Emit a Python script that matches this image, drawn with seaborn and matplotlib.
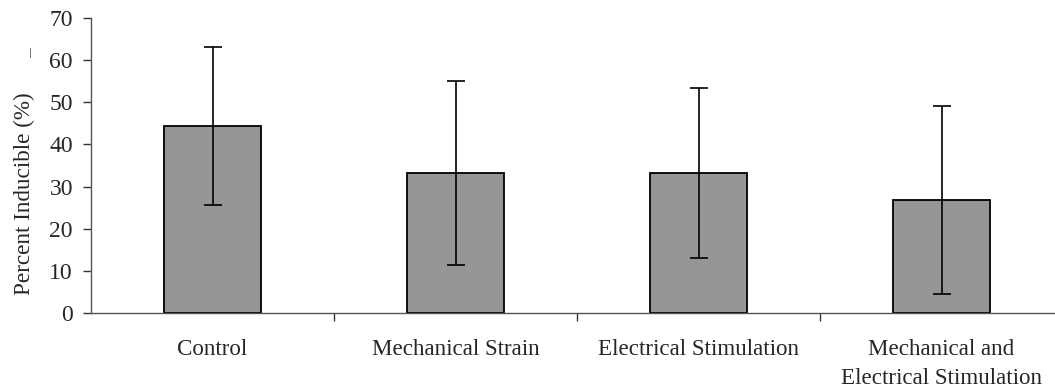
import matplotlib
matplotlib.use("Agg")
import matplotlib.pyplot as plt
import seaborn as sns
import pandas as pd
import numpy as np

categories = ["Control", "Mechanical Strain", "Electrical Stimulation", "Mechanical and\nElectrical Stimulation"]
values = [44.4, 33.3, 33.3, 26.8]
errors = [18.8, 21.8, 20.2, 22.4]
yticks = [0, 10, 20, 30, 40, 50, 60, 70]

sns.set_theme(style="white")
plt.rcParams["font.family"] = ["Liberation Serif", "DejaVu Serif"]

fig = plt.figure(figsize=(10.55, 3.89), dpi=100)
ax = fig.add_axes([91 / 1055, 1 - 313 / 389, (1063 - 91) / 1055, (313 - 18) / 389])

df = pd.DataFrame({"cat": categories, "val": values})
sns.barplot(data=df, x="cat", y="val", ax=ax, color="#969696", saturation=1,
            width=0.4, edgecolor="black", linewidth=1.3, errorbar=None)
ax.errorbar(np.arange(len(categories)), values, yerr=errors, fmt="none",
            ecolor="black", elinewidth=1.2, capsize=6.5, capthick=1.2)

ax.set_xlim(-0.5, len(categories) - 0.5)
ax.set_ylim(0, 70)
ax.set_yticks(yticks)
ax.set_yticklabels([str(t) for t in yticks], fontsize=17)
ax.set_xticks(np.arange(len(categories)))
ax.set_xticklabels(categories, fontsize=16.6, linespacing=1.5)
ax.set_xticks(np.arange(len(categories)) + 0.5, minor=True)
ax.tick_params(axis="x", which="major", length=0, pad=19)
ax.tick_params(axis="x", which="minor", length=6, width=1, color="#333333", direction="out", bottom=True)
ax.tick_params(axis="y", which="major", length=6, width=1, color="#333333", direction="out", left=True, pad=7)
ax.set_xlabel("")
ax.set_ylabel("Percent Inducible (%)", fontsize=16.7)
ax.yaxis.set_label_coords(-0.058, 0.403)

for s in ["top", "right"]:
    ax.spines[s].set_visible(False)
for s in ["left", "bottom"]:
    ax.spines[s].set_color("#555555")
    ax.spines[s].set_linewidth(1.0)

fig.text(32 / 1055, 1 - 53 / 389, "\u2013", rotation=90, fontsize=14, ha="center", va="center",
         color="#444444")

fig.savefig("out.png", dpi=100)
